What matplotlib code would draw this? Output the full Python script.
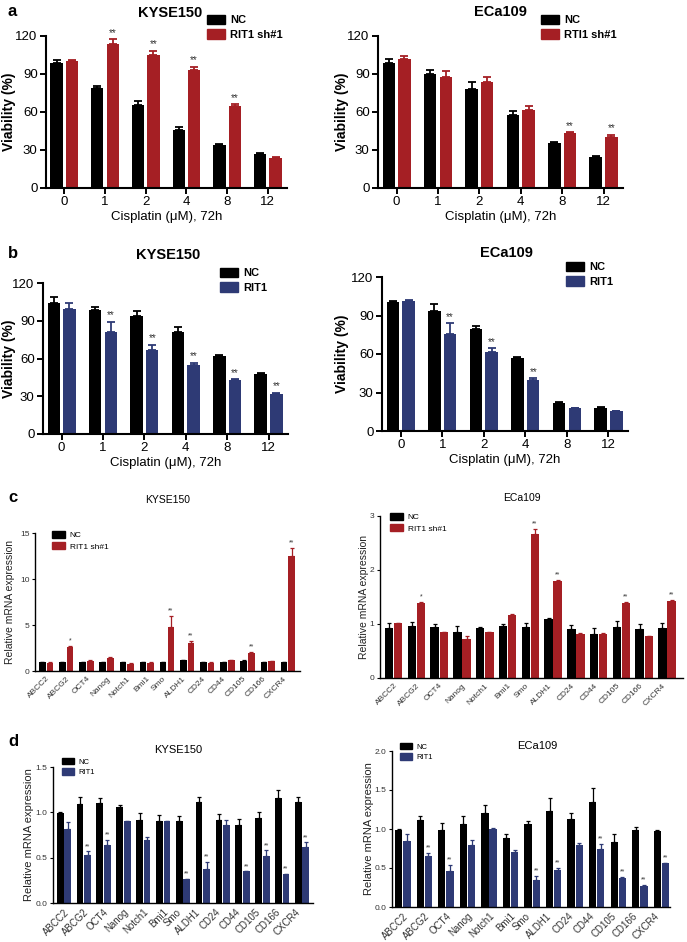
import numpy as np
import matplotlib
matplotlib.use("Agg")
import matplotlib.pyplot as plt

plt.rcParams['font.family'] = ['Liberation Sans', 'DejaVu Sans']

RED = '#a51f24'
BLUE = '#2e3a75'

# ---------------- data ----------------
doses = ['0', '1', '2', '4', '8', '12']

# a: KYSE150 / ECa109, NC vs RIT1 sh#1
a1_nc = [98.7, 79.2, 65.3, 45.5, 34.2, 26.8]
a1_nc_err = [2.6, 1.6, 3.0, 2.4, 0.8, 0.6]
a1_sh = [100.5, 114.0, 105.3, 92.9, 64.7, 23.7]
a1_sh_err = [0.6, 3.4, 2.9, 2.6, 1.3, 0.5]
a1_stars = ['', '**', '**', '**', '**', '']

a2_nc = [98.6, 89.7, 78.4, 57.3, 35.4, 24.8]
a2_nc_err = [3.4, 3.2, 5.3, 3.4, 1.0, 0.3]
a2_sh = [102.0, 87.6, 83.6, 61.2, 43.5, 40.1]
a2_sh_err = [2.0, 5.0, 4.3, 3.2, 0.6, 2.1]
a2_stars = ['', '', '', '', '**', '**']

# b: KYSE150 / ECa109, NC vs RIT1 overexpression
b1_nc = [104.0, 98.5, 94.0, 81.0, 62.0, 47.6]
b1_nc_err = [4.5, 2.7, 4.0, 4.0, 1.0, 0.9]
b1_ov = [99.5, 80.7, 67.0, 55.0, 42.6, 32.0]
b1_ov_err = [5.0, 8.3, 4.0, 1.5, 1.0, 0.8]
b1_stars = ['', '**', '**', '**', '**', '**']

b2_nc = [100.5, 93.7, 79.6, 57.0, 22.0, 18.3]
b2_nc_err = [1.0, 5.0, 2.5, 0.5, 0.5, 0.3]
b2_ov = [101.0, 75.4, 61.8, 40.0, 17.7, 15.6]
b2_ov_err = [1.0, 8.6, 2.6, 1.0, 0.3, 0.3]
b2_stars = ['', '**', '**', '**', '', '']

genes = ['ABCC2', 'ABCG2', 'OCT4', 'Nanog', 'Notch1', 'Bmi1', 'Smo',
         'ALDH1', 'CD24', 'CD44', 'CD105', 'CD166', 'CXCR4']

# c: mRNA, NC vs RIT1 sh#1
c1_nc = [1.0, 1.0, 1.0, 1.0, 1.0, 1.0, 1.0, 1.15, 1.0, 1.0, 1.1, 1.0, 1.0]
c1_nc_err = [0.03, 0.03, 0.03, 0.03, 0.03, 0.03, 0.03, 0.05, 0.03, 0.03, 0.05, 0.03, 0.03]
c1_sh = [0.9, 2.6, 1.1, 1.4, 0.8, 0.9, 4.8, 3.0, 0.9, 1.2, 1.95, 1.05, 12.5]
c1_sh_err = [0.03, 0.1, 0.05, 0.1, 0.03, 0.03, 1.2, 0.25, 0.03, 0.05, 0.1, 0.05, 0.9]
c1_stars = ['', '*', '', '', '', '', '**', '**', '', '', '**', '', '**']

c2_nc = [0.93, 0.96, 0.95, 0.86, 0.93, 0.96, 0.95, 1.09, 0.90, 0.82, 0.95, 0.90, 0.92]
c2_nc_err = [0.09, 0.08, 0.05, 0.10, 0.02, 0.04, 0.07, 0.03, 0.08, 0.10, 0.10, 0.10, 0.10]
c2_sh = [1.01, 1.38, 0.85, 0.73, 0.85, 1.16, 2.67, 1.80, 0.82, 0.82, 1.38, 0.77, 1.42]
c2_sh_err = [0.01, 0.03, 0.01, 0.05, 0.01, 0.02, 0.09, 0.01, 0.01, 0.01, 0.02, 0.01, 0.02]
c2_stars = ['', '*', '', '', '', '', '**', '**', '', '', '**', '', '**']

# d: mRNA, NC vs RIT1 overexpression
d1_nc = [0.99, 1.09, 1.10, 1.06, 0.92, 0.90, 0.90, 1.11, 0.92, 0.86, 0.94, 1.16, 1.11]
d1_nc_err = [0.01, 0.08, 0.06, 0.02, 0.07, 0.07, 0.06, 0.06, 0.06, 0.07, 0.06, 0.09, 0.06]
d1_ov = [0.82, 0.53, 0.64, 0.90, 0.70, 0.90, 0.27, 0.38, 0.86, 0.35, 0.52, 0.32, 0.62]
d1_ov_err = [0.07, 0.04, 0.06, 0.00, 0.03, 0.00, 0.00, 0.07, 0.06, 0.00, 0.06, 0.00, 0.05]
d1_stars = ['', '**', '**', '', '', '', '**', '**', '', '**', '**', '**', '**']

d2_nc = [0.99, 1.12, 0.99, 1.06, 1.20, 0.89, 1.06, 1.23, 1.13, 1.35, 0.83, 0.99, 0.98]
d2_nc_err = [0.01, 0.05, 0.09, 0.11, 0.11, 0.05, 0.04, 0.17, 0.07, 0.17, 0.10, 0.04, 0.01]
d2_ov = [0.85, 0.65, 0.46, 0.80, 1.00, 0.71, 0.34, 0.48, 0.80, 0.75, 0.37, 0.27, 0.56]
d2_ov_err = [0.08, 0.04, 0.08, 0.06, 0.01, 0.02, 0.06, 0.02, 0.02, 0.06, 0.02, 0.01, 0.01]
d2_stars = ['', '**', '**', '', '', '', '**', '**', '', '**', '**', '**', '**']

W, H = 687, 942
fig = plt.figure(figsize=(W / 100, H / 100), dpi=100)


def px_axes(x0, y0, x1, y1, ylab_x):
    # pixel box (left, top, right, bottom) -> axes; ylab_x = right edge of ylabel in px
    ax = fig.add_axes([x0 / W, 1 - y1 / H, (x1 - x0) / W, (y1 - y0) / H])
    ax._ylab = (ylab_x - x0) / (x1 - x0)
    return ax


def bars(ax, labels, nc, nc_err, tr, tr_err, color, stars, width, off,
         star_fs, lw, cap):
    x = np.arange(len(labels))
    for xs, vals, errs, col in [(x - off, nc, nc_err, 'black'), (x + off, tr, tr_err, color)]:
        ax.bar(xs, vals, width, color=col, edgecolor=col, linewidth=0)
        ax.errorbar(xs, vals, yerr=[np.zeros(len(vals)), errs], fmt='none',
                    ecolor=col, elinewidth=lw, capsize=cap, capthick=lw)
    ymax = ax.get_ylim()[1]
    for i, s in enumerate(stars):
        if s:
            ax.text(x[i] + off, tr[i] + tr_err[i] + ymax * 0.01, s, ha='center',
                    va='bottom', fontsize=star_fs, color='#333333', clip_on=False)
    ax.set_xticks(x)
    for sp in ['top', 'right']:
        ax.spines[sp].set_visible(False)
    ax.yaxis.set_label_coords(ax._ylab, 0.5)


def legend(ax, color, label, x, y, fs, bold):
    h = [plt.Rectangle((0, 0), 1, 1, color='black'),
         plt.Rectangle((0, 0), 1, 1, color=color)]
    ax.legend(h, ['NC', label], loc='upper left', bbox_to_anchor=(x / W, 1 - y / H),
              bbox_transform=fig.transFigure, frameon=False,
              prop={'size': fs, 'weight': 'bold' if bold else 'normal'},
              handlelength=1.6, handleheight=0.9, handletextpad=0.5,
              labelspacing=0.35, borderpad=0, borderaxespad=0)


def style_big(ax):
    ax.set_ylim(0, 120)
    ax.set_yticks([0, 30, 60, 90, 120])
    ax.set_xticklabels(doses)
    ax.tick_params(labelsize=9.5, width=1.4, length=4, pad=2)
    for sp in ['left', 'bottom']:
        ax.spines[sp].set_linewidth(1.5)
    ax.set_ylabel('Viability (%)', fontsize=10, fontweight='bold')
    ax.set_xlabel('Cisplatin (\u03bcM), 72h', fontsize=9.5, labelpad=2)
    ax.set_xlim(-0.45, 5.47)


# ---------------- a ----------------
ax = px_axes(46, 36, 287, 188, 16)
style_big(ax)
bars(ax, doses, a1_nc, a1_nc_err, a1_sh, a1_sh_err, RED, a1_stars, 0.3, 0.19, 7, 1.3, 3)
legend(ax, RED, 'RIT1 sh#1', 207, 15, 8, True)

ax = px_axes(378, 36, 623, 188, 349)
style_big(ax)
bars(ax, doses, a2_nc, a2_nc_err, a2_sh, a2_sh_err, RED, a2_stars, 0.3, 0.19, 7, 1.3, 3)
legend(ax, RED, 'RTI1 sh#1', 541, 15, 8, True)

# ---------------- b ----------------
ax = px_axes(43, 283, 288, 434, 16)
style_big(ax)
bars(ax, doses, b1_nc, b1_nc_err, b1_ov, b1_ov_err, BLUE, b1_stars, 0.3, 0.19, 7, 1.3, 3)
legend(ax, BLUE, 'RIT1', 220, 268, 8, True)

ax = px_axes(382, 277, 628, 431, 349)
style_big(ax)
bars(ax, doses, b2_nc, b2_nc_err, b2_ov, b2_ov_err, BLUE, b2_stars, 0.3, 0.19, 7, 1.3, 3)
legend(ax, BLUE, 'RIT1', 566, 262, 8, True)


def style_small(ax, ylim, yticks, fmt, ylab_fs, tick_fs, xlim):
    ax.set_ylim(*ylim)
    ax.set_yticks(yticks)
    ax.set_yticklabels([fmt % t for t in yticks])
    ax.set_xticklabels(genes, rotation=45, ha='right', rotation_mode='anchor',
                       color='#333333')
    ax.tick_params(axis='x', labelsize=tick_fs, length=0, pad=3)
    ax.tick_params(axis='y', labelsize=6, width=0.8, length=2.5, pad=1.5,
                   labelcolor='#333333')
    for sp in ['left', 'bottom']:
        ax.spines[sp].set_linewidth(1.0)
    ax.set_ylabel('Relative mRNA expression', fontsize=ylab_fs, color='#222222')
    ax.set_xlim(*xlim)


# ---------------- c ----------------
ax = px_axes(35, 533, 300, 671, 15)
style_small(ax, (0, 15), [0, 5, 10, 15], '%d', 7.5, 6, (-0.55, 12.6))
bars(ax, genes, c1_nc, c1_nc_err, c1_sh, c1_sh_err, RED, c1_stars, 0.33, 0.19, 5, 0.9, 1.5)
legend(ax, RED, 'RIT1 sh#1', 52, 531, 6, False)

ax = px_axes(380, 516, 683, 678, 369)
style_small(ax, (0, 3), [0, 1, 2, 3], '%d', 7.5, 6, (-0.6, 12.7))
bars(ax, genes, c2_nc, c2_nc_err, c2_sh, c2_sh_err, RED, c2_stars, 0.37, 0.2, 5, 0.9, 1.5)
legend(ax, RED, 'RIT1 sh#1', 390, 513, 6, False)

# ---------------- d ----------------
ax = px_axes(53, 767, 313, 903, 34)
style_small(ax, (0, 1.5), [0, 0.5, 1.0, 1.5], '%.1f', 8, 7, (-0.55, 12.55))
bars(ax, genes, d1_nc, d1_nc_err, d1_ov, d1_ov_err, BLUE, d1_stars, 0.34, 0.19, 5, 0.9, 1.5)
legend(ax, BLUE, 'RIT1', 62, 758, 5.5, False)

ax = px_axes(392, 751, 670, 907, 374)
style_small(ax, (0, 2.0), [0, 0.5, 1.0, 1.5, 2.0], '%.1f', 8, 7, (-0.5, 12.4))
bars(ax, genes, d2_nc, d2_nc_err, d2_ov, d2_ov_err, BLUE, d2_stars, 0.34, 0.19, 5, 0.9, 1.5)
legend(ax, BLUE, 'RIT1', 400, 743, 5.5, False)

# titles and panel letters
titles = [(170, 13, 'KYSE150', 10.5, 'bold'), (500, 12, 'ECa109', 10.5, 'bold'),
          (168, 255, 'KYSE150', 10.5, 'bold'), (506, 253, 'ECa109', 10.5, 'bold'),
          (168, 500, 'KYSE150', 7.5, 'normal'), (522, 498, 'ECa109', 7.5, 'normal'),
          (178, 750, 'KYSE150', 8, 'normal'), (537, 746, 'ECa109', 8, 'normal')]
for x, y, t, fs, fw in titles:
    fig.text(x / W, 1 - y / H, t, ha='center', va='center', fontsize=fs, fontweight=fw)

for y, t in [(12, 'a'), (253, 'b'), (497, 'c'), (742, 'd')]:
    fig.text(8 / W, 1 - y / H, t, ha='left', va='center', fontsize=12, fontweight='bold')

fig.savefig('out.png', dpi=100)
